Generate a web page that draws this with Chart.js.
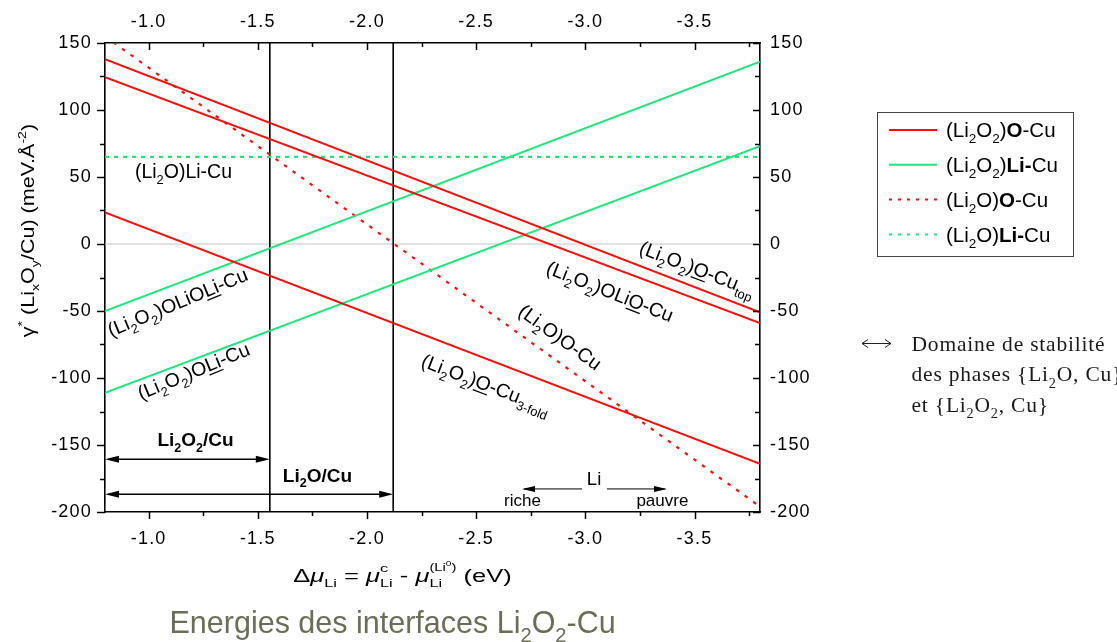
<!DOCTYPE html>
<html>
<head>
<meta charset="utf-8">
<script src="https://cdn.jsdelivr.net/npm/chart.js@4.4.1/dist/chart.umd.min.js"></script>
<style>
  html, body { margin: 0; padding: 0; background: #ffffff; }
  canvas { display: block; }
</style>
</head>
<body>
<canvas id="chart" width="1117" height="642"></canvas>
<script>
// Interface energies γ* against the Li chemical potential. Every interface is a
// straight line, given by its value at both ends of the Δμ range.
const muEnds        = [-0.8, -3.8];
const li2o2_O_top   = [138, -51];
const li2o2_OLiO    = [124.5, -59];
const li2o2_O_3fold = [23.5, -164];
const li2o2_OLiOLi  = [-50, 136];
const li2o2_OLi     = [-111, 73];
const li2o_O        = [155, -196];
const li2o_Li       = [65, 65];
const zeroRef       = [0, 0];

// Δμ limits of the Li2O2/Cu and Li2O/Cu stability domains
const phaseLimits = [-1.555, -2.12];

// Axes
const xRange = [-3.8, -0.8];
const yRange = [-200, 150];
const xTicks = [-1.0, -1.5, -2.0, -2.5, -3.0, -3.5];
const xMinorTicks = [-1.25, -1.75, -2.25, -2.75, -3.25, -3.75];
const yTicks = [150, 100, 50, 0, -50, -100, -150, -200];
const yMinorTicks = [125, 75, 25, -25, -75, -125, -175];

const RED = '#ff0d0d';
const GREEN = '#1ee87c';
const SANS = 'Liberation Sans';
const SERIF = 'Liberation Serif';
const DOTS_RED = [3.5, 7];
const DOTS_GREEN = [4, 5];

// ---------- rich text (sub/superscripts, bold, underline) ----------
function parseRich(str) {
  const segs = [];
  const re = /([_^*~])\{([^}]*)\}|([^_^*~]+)/g;
  let m;
  while ((m = re.exec(str))) {
    if (m[3] !== undefined) segs.push({ t: m[3] });
    else if (m[1] === '_') segs.push({ t: m[2], s: 0.66, dy: 0.3 });
    else if (m[1] === '^') segs.push({ t: m[2], s: 0.66, dy: -0.42 });
    else if (m[1] === '*') segs.push({ t: m[2], b: true });
    else segs.push({ t: m[2], u: true });
  }
  return segs;
}
function fontOf(seg, size, o) {
  const bold = seg.b || o.bold;
  return (seg.i ? 'italic ' : '') + (bold ? 'bold ' : '') + size + 'px "' + (o.family || SANS) + '"';
}
function segWidth(ctx, seg, size, o) {
  if (seg.stack) return Math.max(...seg.stack.map(g => segsWidth(ctx, g, size, o)));
  ctx.font = fontOf(seg, size * (seg.s || 1), o);
  return ctx.measureText(seg.t).width;
}
function segsWidth(ctx, segs, size, o) {
  return segs.reduce((w, s) => w + segWidth(ctx, s, size, o), 0);
}
function drawSegs(ctx, segs, x, size, o) {
  for (const seg of segs) {
    const w = segWidth(ctx, seg, size, o);
    if (seg.stack) {
      seg.stack.forEach(g => drawSegs(ctx, g, x, size, o));
    } else {
      ctx.font = fontOf(seg, size * (seg.s || 1), o);
      const dy = (seg.dy || 0) * size;
      ctx.fillText(seg.t, x, dy);
      if (seg.u) ctx.fillRect(x, dy + size * 0.13, w, Math.max(1, size * 0.065));
    }
    x += w;
  }
}
function richText(ctx, segs, x, y, o) {
  if (typeof segs === 'string') segs = parseRich(segs);
  ctx.save();
  ctx.letterSpacing = (o.spacing || 0) + 'px';
  ctx.translate(x, y);
  ctx.rotate((o.angle || 0) * Math.PI / 180);
  ctx.scale(o.stretch || 1, 1);
  ctx.textAlign = 'left';
  ctx.textBaseline = 'alphabetic';
  ctx.fillStyle = o.color || '#000';
  const w = segsWidth(ctx, segs, o.size, o);
  const x0 = o.align === 'center' ? -w / 2 : (o.align === 'right' ? -w : 0);
  drawSegs(ctx, segs, x0, o.size, o);
  ctx.restore();
}

// ---------- annotation layout ----------
const lineLabels = [
  { text: '(Li_{2}O)Li-Cu',               at: [-0.937, 49.3],  angle: 0 },
  { text: '(Li_{2}O_{2})OLiO~{Li}-Cu',    at: [-0.827, -69.4], angle: -22.5 },
  { text: '(Li_{2}O_{2})O~{Li}-Cu',       at: [-0.965, -116.4], angle: -22.5 },
  { text: '(Li_{2}O_{2})~{O}-Cu_{3-fold}', at: [-2.243, -91],  angle: 21 },
  { text: '(Li_{2}O)O-Cu',                at: [-2.687, -52.2], angle: 36 },
  { text: '(Li_{2}O_{2})OLi~{O}-Cu',      at: [-2.815, -21.6], angle: 21.5 },
  { text: '(Li_{2}O_{2})~{O}-Cu_{top}',   at: [-3.241, -6.7],  angle: 21 }
];
const domainArrows = [
  { from: -0.8, to: phaseLimits[0], y: -160.7, label: 'Li_{2}O_{2}/Cu', labelAt: [-1.2145, -150.7] },
  { from: -0.8, to: phaseLimits[1], y: -186.8, label: 'Li_{2}O/Cu',     labelAt: [-1.773, -177.4] }
];
const legendItems = [
  { text: '(Li_{2}O_{2})*{O}-Cu',  color: RED,   dash: [] },
  { text: '(Li_{2}O_{2})*{Li-}Cu', color: GREEN, dash: [] },
  { text: '(Li_{2}O)*{O}-Cu',      color: RED,   dash: [3, 6] },
  { text: '(Li_{2}O)*{Li-}Cu',     color: GREEN, dash: [3, 6] }
];
const yTitle = 'γ^{*} (Li_{x}O_{y}/Cu) (meV.Å^{-2})';
const xTitle = [
  { t: 'Δ' }, { t: 'μ', i: 1 }, { t: 'Li', s: 0.64, dy: 0.32 }, { t: ' = ' }, { t: 'μ', i: 1 },
  { stack: [[{ t: 'c', s: 0.64, dy: -0.5 }], [{ t: 'Li', s: 0.64, dy: 0.32 }]] },
  { t: ' - ' }, { t: 'μ', i: 1 },
  { stack: [[{ t: '(Li', s: 0.58, dy: -0.55 }, { t: '0', s: 0.4, dy: -0.82 }, { t: ')', s: 0.58, dy: -0.55 }],
            [{ t: 'Li', s: 0.64, dy: 0.32 }]] },
  { t: ' (eV)' }
];
const noteLines = ['Domaine de stabilité', 'des phases {Li_{2}O, Cu}', 'et {Li_{2}O_{2}, Cu}'];
const slideTitle = 'Energies des interfaces Li_{2}O_{2}-Cu';

// ---------- datasets ----------
function straight(vals, color, dash, width, label) {
  return {
    label,
    data: muEnds.map((x, i) => ({ x, y: vals[i] })),
    borderColor: color, borderDash: dash, borderWidth: width,
    borderCapStyle: 'butt', pointRadius: 0, fill: false, tension: 0, clip: 0
  };
}
function vertical(mu) {
  return {
    data: yRange.map(y => ({ x: mu, y })),
    borderColor: '#000', borderWidth: 1.6, pointRadius: 0, fill: false, clip: 0
  };
}
const datasets = [
  straight(li2o2_O_top,   RED,   [], 2, '(Li2O2)O-Cu top'),
  straight(li2o2_OLiO,    RED,   [], 2, '(Li2O2)OLiO-Cu'),
  straight(li2o2_O_3fold, RED,   [], 2, '(Li2O2)O-Cu 3-fold'),
  straight(li2o2_OLiOLi,  GREEN, [], 2, '(Li2O2)OLiOLi-Cu'),
  straight(li2o2_OLi,     GREEN, [], 2, '(Li2O2)OLi-Cu'),
  straight(li2o_O,        RED,   DOTS_RED, 2.2, '(Li2O)O-Cu'),
  straight(li2o_Li,       GREEN, DOTS_GREEN, 2.2, '(Li2O)Li-Cu'),
  ...phaseLimits.map(vertical),
  straight(zeroRef, '#c4c4c4', [], 1, 'zero')
];

// ---------- axes ----------
function axis(position, range, ticks, fmt, padding, size, extra) {
  return Object.assign({
    type: 'linear', position, min: range[0], max: range[1],
    grid: { display: false, drawTicks: false },
    border: { display: true, color: '#000', width: 1.6 },
    ticks: { color: '#000', font: { family: SANS, size: 18 }, padding, autoSkip: false, maxRotation: 0, callback: fmt },
    afterBuildTicks: s => { s.ticks = ticks.map(v => ({ value: v })); },
    afterFit: s => { if (s.isHorizontal()) s.height = size; else s.width = size; }
  }, extra || {});
}
const fmtX = v => v.toFixed(1);
const fmtY = v => String(v);

// ---------- drawing helpers ----------
function tickMarks(ctx, scale, values, len, side) {
  const a = scale.chart.chartArea;
  ctx.beginPath();
  for (const v of values) {
    const p = Math.round(scale.getPixelForValue(v)) + 0.5;
    if (side === 'bottom') { ctx.moveTo(p, a.bottom); ctx.lineTo(p, a.bottom + len); }
    if (side === 'top')    { ctx.moveTo(p, a.top);    ctx.lineTo(p, a.top + len); }
    if (side === 'left')   { ctx.moveTo(a.left - len, p); ctx.lineTo(a.left, p); }
    if (side === 'right')  { ctx.moveTo(a.right - len, p); ctx.lineTo(a.right, p); }
  }
  ctx.stroke();
}
function arrowHead(ctx, x, y, dir, len, half) {
  ctx.beginPath();
  ctx.moveTo(x, y);
  ctx.lineTo(x - dir * len, y - half);
  ctx.lineTo(x - dir * len, y + half);
  ctx.closePath();
  ctx.fill();
}

const decor = {
  id: 'decor',
  beforeDraw(chart) { chart.ctx.letterSpacing = '1.2px'; },
  beforeDatasetsDraw(chart) { chart.ctx.letterSpacing = '0px'; },
  afterDraw(chart) {
    const ctx = chart.ctx;
    const sx = chart.scales.x, sy = chart.scales.y;
    const X = v => sx.getPixelForValue(v), Y = v => sy.getPixelForValue(v);
    ctx.save();
    ctx.letterSpacing = '0px';
    ctx.strokeStyle = '#000';
    ctx.fillStyle = '#000';
    ctx.lineWidth = 1.5;

    // tick marks: outward on bottom/left, inward on top/right
    tickMarks(ctx, sx, xTicks, 7, 'bottom');
    tickMarks(ctx, sx, xMinorTicks, 4, 'bottom');
    tickMarks(ctx, chart.scales.x2, xTicks, 7, 'top');
    tickMarks(ctx, chart.scales.x2, xMinorTicks, 4, 'top');
    tickMarks(ctx, sy, yTicks, 8, 'left');
    tickMarks(ctx, sy, yMinorTicks, 5, 'left');
    tickMarks(ctx, chart.scales.y2, yTicks, 7, 'right');
    tickMarks(ctx, chart.scales.y2, yMinorTicks, 5, 'right');

    // labels along the interface lines
    for (const l of lineLabels) {
      richText(ctx, l.text, X(l.at[0]), Y(l.at[1]), { size: 19.5, angle: l.angle });
    }

    // stability domains
    ctx.lineWidth = 1.5;
    for (const d of domainArrows) {
      const x1 = X(d.from), x2 = X(d.to), y = Y(d.y);
      ctx.beginPath(); ctx.moveTo(x1 + 8, y); ctx.lineTo(x2 - 8, y); ctx.stroke();
      arrowHead(ctx, x1, y, -1, 14, 3.5);
      arrowHead(ctx, x2, y, 1, 14, 3.5);
      richText(ctx, d.label, X(d.labelAt[0]), Y(d.labelAt[1]), { size: 19, bold: true, align: 'center' });
    }

    // Li rich / poor direction
    ctx.lineWidth = 1;
    const ly = Y(-182.8);
    ctx.beginPath();
    ctx.moveTo(X(-2.985), ly); ctx.lineTo(X(-2.72), ly);
    ctx.moveTo(X(-3.099), ly); ctx.lineTo(X(-3.364), ly);
    ctx.stroke();
    arrowHead(ctx, X(-2.71), ly, -1, 13, 3);
    arrowHead(ctx, X(-3.374), ly, 1, 13, 3);
    richText(ctx, 'Li', X(-3.04), Y(-179.9), { size: 18.5, align: 'center' });
    richText(ctx, 'riche', X(-2.712), Y(-195.5), { size: 17, align: 'center' });
    richText(ctx, 'pauvre', X(-3.353), Y(-195.5), { size: 17, align: 'center' });

    // axis titles
    richText(ctx, yTitle, 33.5, 230.5, { size: 17.5, angle: -90, align: 'center', stretch: 1.23 });
    richText(ctx, xTitle, 402.5, 581.5, { size: 18.5, align: 'center', stretch: 1.38 });

    // legend
    ctx.lineWidth = 1;
    ctx.strokeStyle = '#444';
    ctx.strokeRect(877.5, 112.5, 196, 144);
    legendItems.forEach((it, i) => {
      const y = 130 + i * 34.8;
      ctx.save();
      ctx.strokeStyle = it.color;
      ctx.lineWidth = 2;
      ctx.setLineDash(it.dash);
      ctx.beginPath(); ctx.moveTo(889, y); ctx.lineTo(937, y); ctx.stroke();
      ctx.restore();
      richText(ctx, it.text, 946, y + 7.3, { size: 20.5 });
    });

    // stability-domain note
    ctx.strokeStyle = '#222';
    ctx.lineWidth = 1;
    const ay = 343.5;
    ctx.beginPath();
    ctx.moveTo(862, ay); ctx.lineTo(891, ay);
    ctx.moveTo(868, ay - 4); ctx.lineTo(862, ay); ctx.lineTo(868, ay + 4);
    ctx.moveTo(885, ay - 4); ctx.lineTo(891, ay); ctx.lineTo(885, ay + 4);
    ctx.stroke();
    noteLines.forEach((t, i) => {
      richText(ctx, t, 911.5, 350.7 + i * 30.5, { size: 21.5, family: SERIF, color: '#1a1a1a', spacing: 0.8 });
    });

    // slide title
    richText(ctx, slideTitle, 169.5, 633, { size: 30.5, color: '#6b6d57' });
    ctx.restore();
  }
};

new Chart(document.getElementById('chart'), {
  type: 'line',
  data: { datasets },
  options: {
    responsive: false,
    devicePixelRatio: 1,
    animation: false,
    events: [],
    layout: { padding: 0 },
    plugins: { legend: { display: false }, tooltip: { enabled: false } },
    scales: {
      x:  axis('bottom', xRange, xTicks, fmtX, 16, 130, { reverse: true }),
      x2: axis('top',    xRange, xTicks, fmtX, 10, 43,  { reverse: true }),
      y:  axis('left',   yRange, yTicks, fmtY, 13, 105),
      y2: axis('right',  yRange, yTicks, fmtY, 10, 357)
    }
  },
  plugins: [decor]
});
</script>
</body>
</html>
